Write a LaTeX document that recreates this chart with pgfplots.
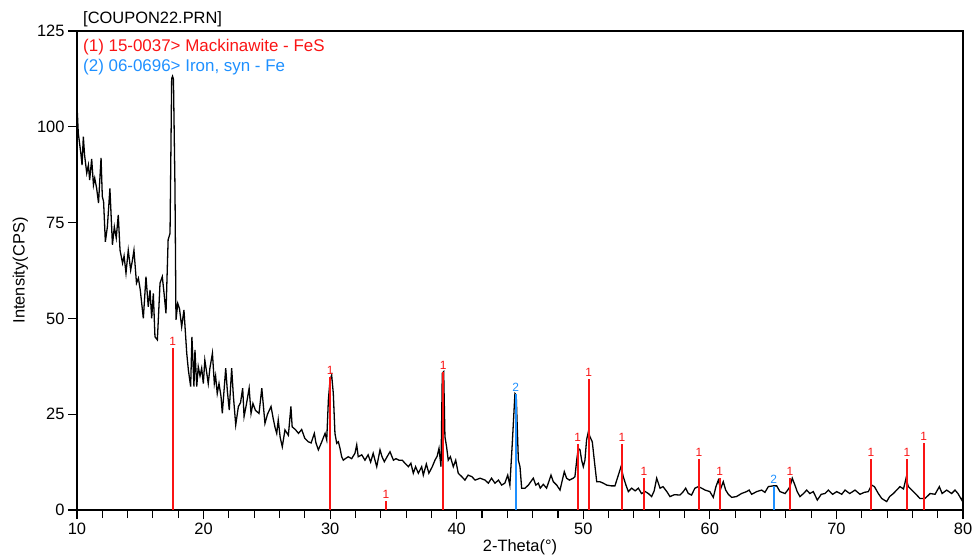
\documentclass[border=0pt]{standalone}
\usepackage{fontspec}
\setmainfont{Liberation Sans}
\usepackage{pgfplots}
\pgfplotsset{compat=1.18}
\definecolor{mred}{RGB}{250,20,20}
\definecolor{mblue}{RGB}{30,144,255}
\begin{document}
\begin{tikzpicture}
\begin{axis}[
  name=ax,
  scale only axis,
  width=886bp, height=479bp,
  xmin=10, xmax=80, ymin=0, ymax=125,
  xtick={10,20,...,80}, ytick={0,25,...,125},
  minor x tick num=4,
  tick align=outside, xtick pos=bottom, ytick pos=left,
  major tick length=9bp, minor tick length=8bp,
  every tick/.style={black, line width=1.1pt},
  axis line style={line width=1.2pt},
  tick label style={font=\fontsize{16.5}{19}\selectfont},
  /pgf/number format/assume math mode=true,
  xlabel={2-Theta(°)}, ylabel={Intensity(CPS)},
  label style={font=\fontsize{16.5}{19}\selectfont},
  xlabel style={at={(axis description cs:0.5,-0.077)}, anchor=center},
  ylabel style={at={(axis description cs:-0.064,0.5)}, anchor=center},
  clip=false,
]
\addplot[black, line width=1.3pt] coordinates {
(10.00,94.5)(10.03,103.6)(10.10,98.4)(10.30,93.2)(10.40,90.0)(10.50,97.4)(10.60,92.6)(10.77,87.9)(10.90,90.0)(11.00,86.1)
(11.16,91.6)(11.30,84.8)(11.40,86.6)(11.55,84.0)(11.70,80.1)(11.90,91.9)(12.00,81.8)(12.10,80.5)(12.24,70.0)(12.40,73.9)
(12.60,83.9)(12.80,69.2)(12.95,73.9)(13.10,71.0)(13.26,77.0)(13.40,67.8)(13.60,64.4)(13.72,66.3)(13.87,61.8)(14.05,67.8)
(14.24,62.6)(14.37,65.0)(14.50,67.8)(14.70,59.2)(14.85,60.5)(15.00,57.4)(15.24,50.0)(15.45,60.9)(15.63,53.0)(15.77,57.4)
(15.90,50.0)(16.03,56.5)(16.16,45.2)(16.35,44.4)(16.56,59.2)(16.74,60.9)(16.88,56.5)(17.03,51.3)(17.20,70.5)(17.35,72.2)
(17.48,112.6)(17.55,113.2)(17.62,112.4)(17.74,84.4)(17.82,49.6)(17.96,53.9)(18.10,52.5)(18.27,47.8)(18.45,52.2)(18.67,40.9)(18.80,36.5)
(18.98,32.2)(19.08,45.2)(19.24,32.2)(19.32,41.8)(19.46,32.2)(19.58,37.4)(19.72,35.0)(19.85,37.0)(19.98,33.0)(20.10,39.1)
(20.24,36.0)(20.37,33.0)(20.50,37.0)(20.70,40.9)(20.85,33.0)(20.95,35.0)(21.08,30.4)(21.22,33.0)(21.38,29.6)(21.48,25.2)
(21.75,37.0)(21.88,31.0)(22.03,26.1)(22.22,37.0)(22.35,30.0)(22.54,22.2)(22.75,27.0)(22.92,28.0)(23.09,31.8)(23.20,24.4)
(23.38,27.5)(23.60,31.8)(23.75,25.2)(23.90,27.8)(24.10,26.0)(24.38,25.2)(24.60,31.8)(24.85,22.6)(25.05,25.0)(25.33,27.0)
(25.50,23.9)(25.65,21.5)(25.78,20.0)(25.90,23.5)(26.05,19.0)(26.22,16.5)(26.43,20.9)(26.70,19.5)(26.90,27.0)(27.00,21.7)
(27.25,21.0)(27.50,20.0)(27.75,21.0)(28.00,18.7)(28.27,17.8)(28.50,17.5)(28.75,20.0)(28.88,17.5)(29.07,15.7)(29.30,17.5)
(29.60,20.0)(29.73,18.3)(29.86,28.7)(29.99,33.9)(30.12,35.2)(30.25,30.4)(30.38,20.0)(30.52,17.4)(30.65,17.8)(30.78,16.1)
(30.91,13.9)(31.04,13.0)(31.20,13.4)(31.43,13.9)(31.70,13.4)(31.96,14.8)(32.10,17.0)(32.22,13.9)(32.50,14.4)(32.75,13.0)
(33.00,14.4)(33.20,12.5)(33.40,14.8)(33.68,11.3)(33.94,15.7)(34.10,13.9)(34.28,12.6)(34.50,13.9)(34.73,15.2)(35.00,13.0)
(35.20,13.4)(35.44,13.0)(35.70,13.0)(35.91,12.2)(36.18,11.3)(36.38,12.2)(36.57,9.6)(36.75,11.3)(36.97,9.6)(37.23,11.3)
(37.36,9.1)(37.60,12.0)(37.80,9.6)(38.07,11.3)(38.28,13.0)(38.45,14.0)(38.60,16.1)(38.76,11.3)(38.86,35.7)(38.97,36.1)
(39.07,19.1)(39.20,16.5)(39.33,13.0)(39.50,13.9)(39.73,11.3)(39.92,13.0)(40.12,9.6)(40.40,8.7)(40.65,7.8)(40.90,9.1)
(41.20,8.7)(41.45,7.8)(41.85,8.3)(42.24,7.8)(42.50,7.0)(42.75,8.3)(43.02,7.0)(43.30,7.8)(43.55,6.5)(43.80,7.0)
(44.03,9.1)(44.20,6.5)(44.39,17.4)(44.60,30.4)(44.70,30.0)(44.80,20.0)(44.87,13.0)(45.00,11.3)(45.13,5.7)(45.40,5.7)
(45.66,6.5)(46.05,8.3)(46.25,6.5)(46.45,7.0)(46.60,5.7)(46.84,6.7)(47.10,5.7)(47.45,9.1)(47.63,7.4)(47.90,6.5)
(48.16,5.2)(48.50,10.0)(48.68,8.3)(48.90,7.8)(49.21,8.3)(49.34,8.7)(49.48,13.0)(49.60,16.1)(49.74,15.7)(49.87,13.0)
(50.00,11.3)(50.13,13.0)(50.26,18.3)(50.40,20.4)(50.53,19.1)(50.71,17.8)(50.87,13.0)(51.06,7.4)(51.30,7.4)(51.58,7.0)
(51.85,6.5)(52.20,6.3)(52.50,6.3)(52.77,9.1)(52.98,11.3)(53.16,8.7)(53.37,6.5)(53.56,4.8)(53.82,5.7)(54.10,5.0)
(54.35,5.7)(54.60,4.3)(54.90,4.8)(55.14,4.3)(55.40,3.5)(55.60,5.0)(55.80,8.3)(56.06,5.7)(56.30,6.1)(56.60,4.8)
(56.85,3.5)(57.20,4.0)(57.64,3.9)(57.90,4.8)(58.09,5.7)(58.30,4.3)(58.55,3.9)(58.82,5.7)(59.09,6.1)(59.35,5.7)
(59.62,5.2)(60.00,4.8)(60.27,3.3)(60.48,6.1)(60.67,7.8)(60.85,5.5)(61.06,7.4)(61.25,5.2)(61.46,4.1)(61.72,3.3)
(62.10,3.5)(62.50,4.3)(62.90,4.8)(63.10,5.2)(63.30,4.1)(63.70,4.8)(64.09,5.2)(64.35,4.6)(64.62,6.1)(65.00,6.3)
(65.28,6.3)(65.54,4.8)(65.94,4.3)(66.15,5.2)(66.33,6.1)(66.51,8.3)(66.72,6.5)(66.90,4.8)(67.12,3.5)(67.40,4.3)
(67.65,5.2)(67.90,4.3)(68.17,4.8)(68.49,2.6)(68.80,4.1)(69.10,4.3)(69.36,5.2)(69.70,4.1)(70.02,4.8)(70.42,4.1)
(70.68,5.2)(71.05,4.3)(71.47,5.2)(71.86,4.1)(72.20,4.6)(72.52,4.8)(72.78,6.5)(73.00,6.1)(73.31,4.3)(73.58,3.0)
(73.97,2.2)(74.20,3.5)(74.50,4.3)(74.76,5.2)(75.02,6.1)(75.30,5.5)(75.50,8.3)(75.68,6.1)(75.95,5.2)(76.29,4.1)
(76.60,3.0)(77.00,3.0)(77.40,4.3)(77.79,4.1)(78.13,6.1)(78.35,4.3)(78.71,5.2)(79.10,4.3)(79.37,5.2)(79.60,4.3)
(79.90,2.6)(80.00,3.5)
};
\addplot[ycomb, mred, line width=2bp,
  nodes near coords=1,
  every node near coord/.append style={font=\fontsize{12}{14}\selectfont, text=mred, inner sep=1.5bp}]
  coordinates {
(17.56,42.2)(30.00,34.6)(34.41,2.3)(38.94,35.9)(49.56,17.3)(50.43,34.1)(53.06,17.3)
(54.80,8.4)(59.14,13.2)(60.78,8.4)(66.33,8.3)(72.73,13.2)(75.58,13.2)(76.90,17.4)
};
\addplot[ycomb, mblue, line width=2bp,
  nodes near coords=2,
  every node near coord/.append style={font=\fontsize{12}{14}\selectfont, text=mblue, inner sep=1.5bp}]
  coordinates {
(44.66,30.2)(65.04,6.3)
};
\end{axis}
\node[anchor=base west, inner sep=0, font=\fontsize{16.5}{19}\selectfont] at ([xshift=6bp,yshift=7bp]ax.north west) {[COUPON22.PRN]};
\node[anchor=base west, inner sep=0, font=\fontsize{17}{19}\selectfont, text=mred] at ([xshift=6bp,yshift=-21bp]ax.north west) {(1) 15-0037> Mackinawite - FeS};
\node[anchor=base west, inner sep=0, font=\fontsize{17}{19}\selectfont, text=mblue] at ([xshift=6bp,yshift=-41bp]ax.north west) {(2) 06-0696> Iron, syn - Fe};
\pgfresetboundingbox
\path[use as bounding box] ([xshift=-77bp,yshift=-47bp]ax.south west) rectangle ([xshift=13bp,yshift=31bp]ax.north east);
\end{tikzpicture}
\end{document}
